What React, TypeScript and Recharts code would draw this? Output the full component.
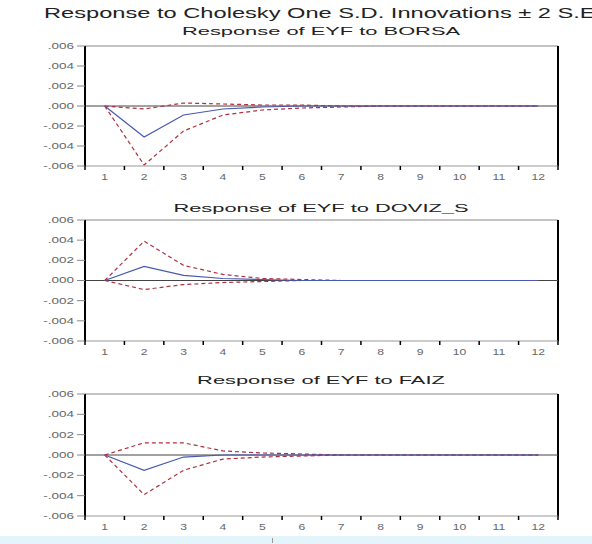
import { LineChart, Line, XAxis, YAxis, ReferenceLine } from 'recharts';

const periods = [1, 2, 3, 4, 5, 6, 7, 8, 9, 10, 11, 12];
const yTicks = [-0.006, -0.004, -0.002, 0, 0.002, 0.004, 0.006];

// Response of EYF to BORSA
const borsaResp = [0, -0.0031, -0.0009, -0.0003, -0.0001, 0, 0, 0, 0, 0, 0, 0];
const borsaUpper = [0, -0.0003, 0.0003, 0.0002, 0.0001, 0.0001, 0, 0, 0, 0, 0, 0];
const borsaLower = [0, -0.0059, -0.0025, -0.0009, -0.0004, -0.0002, -0.0001, 0, 0, 0, 0, 0];

// Response of EYF to DOVIZ_S
const dovizResp = [0, 0.0014, 0.0005, 0.0002, 0.0001, 0, 0, 0, 0, 0, 0, 0];
const dovizUpper = [0, 0.0039, 0.0015, 0.0006, 0.0002, 0.0001, 0, 0, 0, 0, 0, 0];
const dovizLower = [0, -0.0009, -0.0004, -0.0002, -0.0001, 0, 0, 0, 0, 0, 0, 0];

// Response of EYF to FAIZ
const faizResp = [0, -0.0015, -0.0002, 0, 0, 0, 0, 0, 0, 0, 0, 0];
const faizUpper = [0, 0.0012, 0.0012, 0.0004, 0.0002, 0.0001, 0, 0, 0, 0, 0, 0];
const faizLower = [0, -0.0039, -0.0015, -0.0004, -0.0002, -0.0001, 0, 0, 0, 0, 0, 0];

const FONT = '"Liberation Sans", Arial, sans-serif';
const W = 592;
const Y_W = 85;
const RIGHT = 34;
const BAND = (W - Y_W - RIGHT) / periods.length;

const build = (resp: number[], up: number[], lo: number[]) =>
  periods.map((p, i) => ({ period: p, resp: resp[i], upper: up[i], lower: lo[i] }));

const fmt = (v: number) => {
  if (v === 0) return '.000';
  const s = Math.abs(v).toFixed(3).replace(/^0/, '');
  return v < 0 ? '-' + s : s;
};

const XTick = (props: any) => {
  const { x, y, payload } = props;
  const h = BAND / 2;
  return (
    <g>
      <line x1={x - h} x2={x - h} y1={y} y2={y + 4} stroke="#000" strokeWidth={1.5} />
      {payload.value === 12 && (
        <line x1={x + h} x2={x + h} y1={y} y2={y + 4} stroke="#000" strokeWidth={1.5} />
      )}
      <text
        x={x}
        y={y + 14}
        textAnchor="middle"
        fontSize={9}
        fill="#666"
        fontFamily={FONT}
        transform={`translate(${x},0) scale(1.35,1) translate(${-x},0)`}
      >
        {payload.value}
      </text>
    </g>
  );
};

const YTick = (props: any) => {
  const { x, y, payload } = props;
  return (
    <text
      x={x}
      y={y + 3}
      textAnchor="end"
      fontSize={9}
      fill="#666"
      fontFamily={FONT}
      transform={`translate(${x},0) scale(1.5,1) translate(${-x},0)`}
    >
      {fmt(payload.value)}
    </text>
  );
};

function Panel({ top, height, data }: { top: number; height: number; data: any[] }) {
  return (
    <div style={{ position: 'absolute', left: 0, top }}>
      <LineChart width={W} height={height} data={data} margin={{ top: 5, right: RIGHT, bottom: 0, left: 0 }}>
        <XAxis
          dataKey="period"
          type="number"
          domain={[0.5, 12.5]}
          ticks={periods}
          allowDataOverflow
          height={25}
          tickSize={0}
          tickMargin={0}
          tickLine={false}
          axisLine={{ stroke: '#999' }}
          tick={XTick}
          interval={0}
        />
        <YAxis
          domain={[-0.006, 0.006]}
          ticks={yTicks}
          allowDataOverflow
          width={Y_W}
          tickSize={8}
          tickMargin={3}
          tickLine={{ stroke: '#888' }}
          axisLine={{ stroke: '#000', strokeWidth: 2 }}
          tick={YTick}
          interval={0}
        />
        <ReferenceLine y={0.006} stroke="#888" />
        <ReferenceLine x={12.5} stroke="#000" strokeWidth={2} />
        <ReferenceLine y={0} stroke="#444" />
        <Line dataKey="upper" stroke="#b03040" strokeWidth={1.2} strokeDasharray="4 3" dot={false} isAnimationActive={false} />
        <Line dataKey="lower" stroke="#b03040" strokeWidth={1.2} strokeDasharray="4 3" dot={false} isAnimationActive={false} />
        <Line dataKey="resp" stroke="#4858b0" strokeWidth={1.2} dot={false} isAnimationActive={false} />
      </LineChart>
    </div>
  );
}

function SubTitle({ top, text }: { top: number; text: string }) {
  return (
    <div
      style={{
        position: 'absolute',
        left: 321,
        top,
        fontSize: 11.5,
        fontFamily: FONT,
        color: '#222',
        whiteSpace: 'nowrap',
        transform: 'translateX(-50%) scaleX(1.9)',
        lineHeight: '14px',
      }}
    >
      {text}
    </div>
  );
}

export default function App() {
  return (
    <div
      style={{
        position: 'absolute',
        left: 0,
        top: 0,
        width: W,
        height: 544,
        overflow: 'hidden',
        background: '#fff',
      }}
    >
      <div
        style={{
          position: 'absolute',
          left: 44,
          top: 5,
          fontSize: 14.5,
          fontFamily: FONT,
          color: '#222',
          whiteSpace: 'nowrap',
          transform: 'scaleX(1.63)',
          transformOrigin: 'left center',
          lineHeight: '16px',
        }}
      >
        Response to Cholesky One S.D. Innovations ± 2 S.E.
      </div>
      <SubTitle top={24} text="Response of EYF to BORSA" />
      <Panel top={41} height={150} data={build(borsaResp, borsaUpper, borsaLower)} />
      <SubTitle top={201} text="Response of EYF to DOVIZ_S" />
      <Panel top={215} height={151} data={build(dovizResp, dovizUpper, dovizLower)} />
      <SubTitle top={373} text="Response of EYF to FAIZ" />
      <Panel top={389} height={152} data={build(faizResp, faizUpper, faizLower)} />
      <div style={{ position: 'absolute', left: 0, top: 536, width: W, height: 8, background: '#e3f5fa' }} />
      <div style={{ position: 'absolute', left: 272, top: 538, width: 1, height: 5, background: '#999' }} />
    </div>
  );
}
